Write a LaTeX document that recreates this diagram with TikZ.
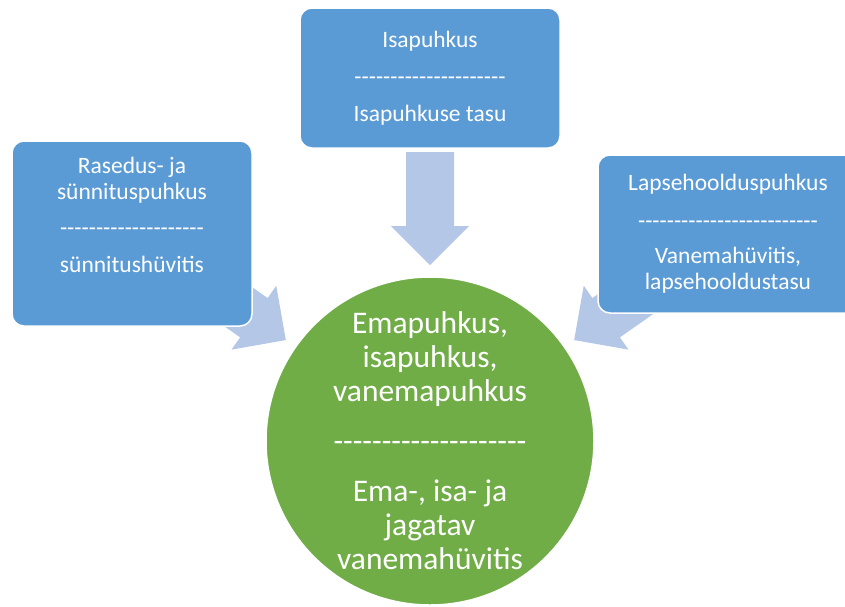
\documentclass[tikz,border=0pt]{standalone}
\usepackage{fontspec}
\setmainfont{Carlito}[Ligatures=TeXOff]
\usetikzlibrary{calc}

\definecolor{boxblue}{HTML}{5B9BD5}
\definecolor{arrowblue}{HTML}{B4C7E7}
\definecolor{leafgreen}{HTML}{70AD47}

\tikzset{
  boxtext/.style={text=white, align=center, inner sep=0pt, font=\fontsize{23.5}{26}\selectfont},
  box/.style={boxtext, rectangle, rounded corners=12pt, fill=boxblue, draw=white, line width=1.5pt},
  circtext/.style={text=white, align=center, inner sep=0pt, font=\fontsize{31.5}{34}\selectfont},
  flow/.style={fill=arrowblue},
}

\begin{document}
\begin{tikzpicture}[x=1pt, y=-1pt]

    \def\blockarrow{(0,0) -- (-39,39) -- (-39,24) -- (-113,24) -- (-113,-24) -- (-39,-24) -- (-39,-39) -- cycle}

    \useasboundingbox (0,0) rectangle (845,606);

    %circle:
    \node[circle, minimum size=328pt, fill=leafgreen, draw=white, line width=1.5pt] (puhkus) at (430,441) {};
    \node[circtext] at (puhkus.center) {Emapuhkus,\\isapuhkus,\\vanemapuhkus\\[16pt]--------------------\\[16pt]Ema-, isa- ja\\jagatav\\vanemahüvitis};

    %arrow tips:
    \coordinate (tipisa) at ($(puhkus.center)!176pt!(puhkus.90)$);
    \coordinate (tipema) at ($(puhkus.center)!176pt!(puhkus.145)$);
    \coordinate (tiplaps) at ($(puhkus.center)!176pt!(puhkus.35)$);

    %arrows:
    \fill[flow, shift={(tipisa)}, rotate=270] \blockarrow;
    \fill[flow, shift={(tipema)}, rotate=325] \blockarrow;
    \fill[flow, shift={(tiplaps)}, rotate=215] \blockarrow;

    %boxes:
    \node[box, minimum width=260pt, minimum height=140pt] (isa) at (430,78)
        {Isapuhkus\\[11pt]---------------------\\[11pt]Isapuhkuse tasu};

    \node[box, minimum width=240pt, minimum height=185pt] (ema) at (132,233.5) {};
    \node[boxtext] at ([yshift=19pt]ema.center)
        {Rasedus- ja\\sünnituspuhkus\\[10pt]--------------------\\[11pt]sünnitushüvitis};

    \node[box, minimum width=260pt, minimum height=158pt] (laps) at (728,234)
        {Lapsehoolduspuhkus\\[12pt]-------------------------\\[9pt]Vanemahüvitis,\\lapsehooldustasu};

\end{tikzpicture}
\end{document}
